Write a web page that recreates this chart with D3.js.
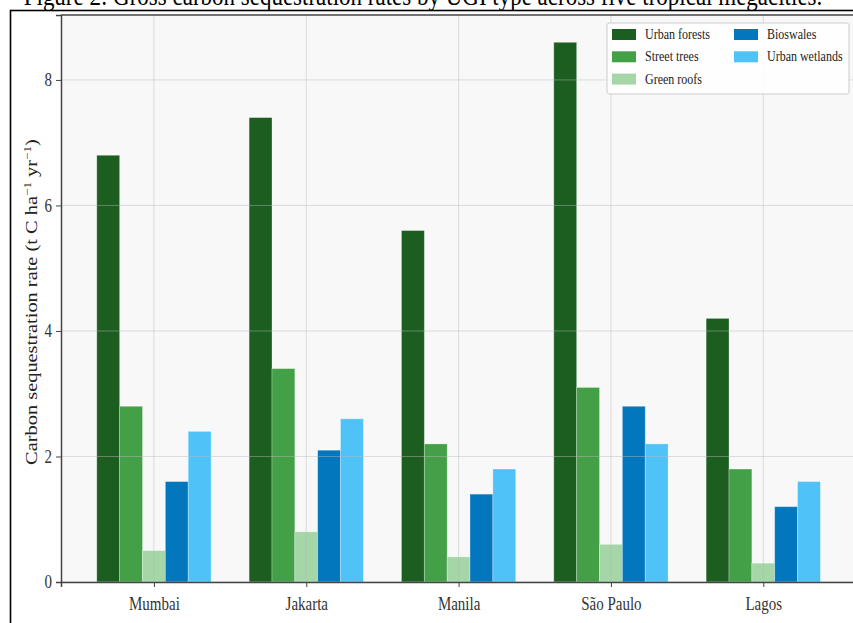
<!DOCTYPE html>
<html>
<head>
<meta charset="utf-8">
<script src="https://cdn.jsdelivr.net/npm/d3@7"></script>
<style>
  html, body { margin: 0; padding: 0; background: #ffffff; }
  svg { display: block; }
  text { font-family: "Liberation Serif", "DejaVu Serif", serif; }
</style>
</head>
<body>
<svg id="chart" width="853" height="623"></svg>
<script>
// Carbon sequestration (t C ha^-1 yr^-1) by urban green infrastructure type
const cities = ["Mumbai", "Jakarta", "Manila", "São Paulo", "Lagos"];
const seriesNames = ["Urban forests", "Street trees", "Green roofs", "Bioswales", "Urban wetlands"];
const seriesColors = ["#1b5e20", "#43a047", "#a5d6a7", "#0277bd", "#4fc3f7"];
const urbanForests  = [6.8, 7.4, 5.6, 8.6, 4.2];
const streetTrees   = [2.8, 3.4, 2.2, 3.1, 1.8];
const greenRoofs    = [0.5, 0.8, 0.4, 0.6, 0.3];
const bioswales     = [1.6, 2.1, 1.4, 2.8, 1.2];
const urbanWetlands = [2.4, 2.6, 1.8, 2.2, 1.6];
const yTicks = [0, 2, 4, 6, 8];
const titleText = "Figure 2: Gross carbon sequestration rates by UGI type across five tropical megacities.";

const seriesValues = [urbanForests, streetTrees, greenRoofs, bioswales, urbanWetlands];

// Text in this figure is set slightly tall and narrow
const stretch = 1.2;

const svg = d3.select("#chart");

// Figure title (sits partly above the page edge)
svg.append("text")
  .attr("transform", `translate(423,4.5) scale(1,${stretch})`)
  .attr("text-anchor", "middle")
  .attr("font-size", 23)
  .attr("fill", "#000")
  .text(titleText);

// Outer figure frame
svg.append("rect")
  .attr("x", 10.5).attr("y", 10.5)
  .attr("width", 900).attr("height", 700)
  .attr("fill", "none")
  .attr("stroke", "#000").attr("stroke-width", 1.6);

// Plot geometry
const plot = { left: 61, top: 15, bottom: 582 };
const x = d3.scaleLinear().domain([-0.61, 4.61]).range([plot.left, 856.2]);
const y = d3.scaleLinear().domain([0, 9.035]).range([plot.bottom, plot.top]);
const barW = 0.15;

const g = svg.append("g");

// Plot background
g.append("rect")
  .attr("x", x(-0.61)).attr("y", plot.top)
  .attr("width", x(4.61) - x(-0.61)).attr("height", plot.bottom - plot.top)
  .attr("fill", "#f8f8f8");

// Bars
seriesValues.forEach((vals, j) => {
  g.append("g").selectAll("rect")
    .data(vals)
    .join("rect")
    .attr("x", (d, i) => x(i + (j - 2) * barW - barW / 2))
    .attr("width", x(barW) - x(0))
    .attr("y", d => y(d))
    .attr("height", d => y(0) - y(d))
    .attr("fill", seriesColors[j])
    .attr("stroke", "#ffffff").attr("stroke-opacity", 0.35).attr("stroke-width", 0.8);
});

// Grid lines drawn over the bars, faint
const grid = g.append("g").attr("stroke", "#b8b8b8").attr("stroke-opacity", 0.45).attr("stroke-width", 1);
yTicks.forEach(t => {
  grid.append("line")
    .attr("x1", x(-0.61)).attr("x2", x(4.61))
    .attr("y1", y(t)).attr("y2", y(t));
});
cities.forEach((c, i) => {
  grid.append("line")
    .attr("x1", x(i)).attr("x2", x(i))
    .attr("y1", plot.top).attr("y2", plot.bottom);
});

// Axes
const yAxis = d3.axisLeft(y).tickValues(yTicks).tickFormat(d3.format("d")).tickSize(5).tickPadding(4);
const yG = g.append("g").attr("transform", `translate(${plot.left},0)`).call(yAxis);
const xAxis = d3.axisBottom(x).tickValues(d3.range(cities.length)).tickFormat(i => cities[i]).tickSize(5).tickPadding(8);
const xG = g.append("g").attr("transform", `translate(0,${plot.bottom})`).call(xAxis);

[yG, xG].forEach(a => {
  a.attr("font-family", null).attr("font-size", null);
  a.select(".domain").attr("stroke", "#444").attr("stroke-width", 1.5);
  a.selectAll(".tick line").attr("stroke", "#444").attr("stroke-width", 1);
  a.selectAll(".tick text")
    .attr("font-size", 15).attr("fill", "#333")
    .attr("transform", `scale(1,${stretch})`);
});

// Top spine
g.append("line")
  .attr("x1", x(-0.61)).attr("x2", x(4.61))
  .attr("y1", plot.top).attr("y2", plot.top)
  .attr("stroke", "#444").attr("stroke-width", 1.5);

// Y-axis title with superscript units
const yLabel = svg.append("text")
  .attr("transform", `translate(37,302) rotate(-90) scale(1.2,1)`)
  .attr("text-anchor", "middle")
  .attr("font-size", 17)
  .attr("fill", "#222");
yLabel.append("tspan").text("Carbon sequestration rate (t C ha");
yLabel.append("tspan").attr("baseline-shift", "super").attr("font-size", 11).text("−1");
yLabel.append("tspan").text(" yr");
yLabel.append("tspan").attr("baseline-shift", "super").attr("font-size", 11).text("−1");
yLabel.append("tspan").text(")");

// Legend
const leg = svg.append("g").attr("transform", "translate(607,23)");
leg.append("rect")
  .attr("width", 242).attr("height", 71).attr("rx", 2.5)
  .attr("fill", "#ffffff").attr("fill-opacity", 0.85)
  .attr("stroke", "#cccccc").attr("stroke-width", 1);
seriesNames.forEach((name, k) => {
  const col = k < 3 ? 0 : 1;
  const row = k < 3 ? k : k - 3;
  const item = leg.append("g").attr("transform", `translate(${5 + col * 122},${11.5 + row * 22.3})`);
  item.append("rect")
    .attr("x", 0).attr("y", -5.5).attr("width", 24).attr("height", 11)
    .attr("fill", seriesColors[k]);
  item.append("text")
    .attr("transform", `translate(33,4.5) scale(1,1.15)`)
    .attr("font-size", 12).attr("fill", "#222")
    .text(name);
});
</script>
</body>
</html>
